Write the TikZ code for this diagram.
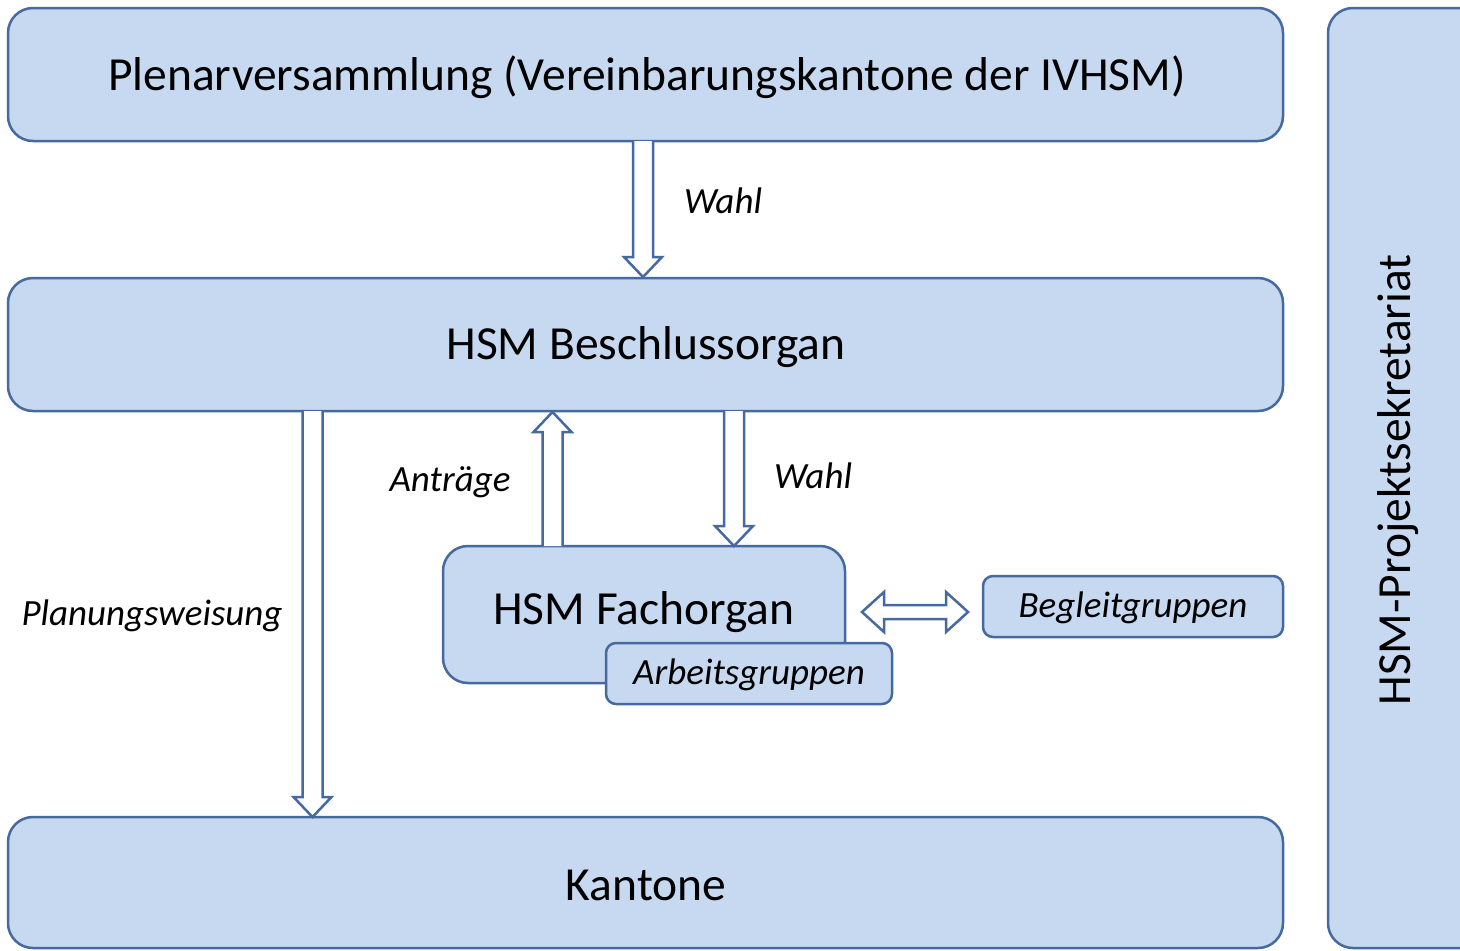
\documentclass[tikz,border=0pt]{standalone}
\usepackage{fontspec}
\setmainfont{Carlito}
\usetikzlibrary{calc}
\definecolor{boxfill}{HTML}{C6D9F0}
\definecolor{boxline}{HTML}{46699F}
\tikzset{
  box/.style={draw=boxline, fill=boxfill, line width=2.5pt, rounded corners=25pt, inner sep=0pt},
  smallbox/.style={draw=boxline, fill=boxfill, line width=2.5pt, rounded corners=10pt, inner sep=0pt},
  arr/.style={draw=boxline, fill=white, line width=2.5pt, line join=miter},
  big/.style={font=\fontsize{47.5}{52}\selectfont},
  lab/.style={font=\fontsize{37}{42}\selectfont\itshape},
}
\newcommand\fatdown[2]{\draw[arr] let \p1=(#1), \p2=(#2) in
  (\x1-10pt,\y1) -- (\x1-10pt,\y2+20pt) -- (\x1-19pt,\y2+20pt) -- (\x1,\y2) -- (\x1+19pt,\y2+20pt) -- (\x1+10pt,\y2+20pt) -- (\x1+10pt,\y1);}
\newcommand\fatup[2]{\draw[arr] let \p1=(#1), \p2=(#2) in
  (\x1-10pt,\y1) -- (\x1-10pt,\y2-20pt) -- (\x1-19pt,\y2-20pt) -- (\x1,\y2) -- (\x1+19pt,\y2-20pt) -- (\x1+10pt,\y2-20pt) -- (\x1+10pt,\y1);}
\newcommand\fatboth[2]{\draw[arr] let \p1=(#1), \p2=(#2) in
  (\x1,\y1) -- (\x1+22pt,\y1+20pt) -- (\x1+22pt,\y1+7pt) -- (\x2-22pt,\y1+7pt) -- (\x2-22pt,\y1+20pt) -- (\x2,\y1)
  -- (\x2-22pt,\y1-20pt) -- (\x2-22pt,\y1-7pt) -- (\x1+22pt,\y1-7pt) -- (\x1+22pt,\y1-20pt) -- cycle;}
\begin{document}
\begin{tikzpicture}[x=1pt,y=-1pt]
\useasboundingbox[fill=white] (0,0) rectangle (1460,951);
% boxes
\node[box, minimum width=1275pt, minimum height=133pt] (plen) at (645.5,74.5) {};
\node[big] (plentxt) at (647,77) {Plenarversammlung (Vereinbarungskantone der IVHSM)};
\node[box, minimum width=1275pt, minimum height=133pt] (besch) at (645.5,344.5) {};
\node[big] (beschtxt) at (646,347) {HSM Beschlussorgan};
\node[box, minimum width=1275pt, minimum height=131pt] (kant) at (645.5,882.5) {};
\node[big] (kanttxt) at (646,885) {Kantone};
\node[box, minimum width=170pt, minimum height=940pt] (sek) at (1413,478) {};
\node[big, rotate=90] (sektxt) at (1398,480) {HSM-Projektsekretariat};
\node[box, minimum width=402pt, minimum height=137pt] (fach) at (644,614.5) {};
\node[big] (fachtxt) at (644,612) {HSM Fachorgan};
\node[smallbox, minimum width=286pt, minimum height=61pt] (arbeit) at (749,673.5) {};
\node[lab] (arbeittxt) at (749,675) {Arbeitsgruppen};
\node[smallbox, minimum width=300pt, minimum height=61pt] (begl) at (1133,606.5) {};
\node[lab] (begltxt) at (1133,608) {Begleitgruppen};
% arrow end points
\coordinate (a1s) at (643,141);
\coordinate (a1e) at (643,277);
\coordinate (a2s) at (312.5,411);
\coordinate (a2e) at (312.5,817);
\coordinate (a3s) at (552.5,546);
\coordinate (a3e) at (552.5,412);
\coordinate (a4s) at (734,411);
\coordinate (a4e) at (734,546);
\coordinate (a5s) at (862,612);
\coordinate (a5e) at (968,612);
\fatdown{a1s}{a1e}
\fatdown{a2s}{a2e}
\fatup{a3s}{a3e}
\fatdown{a4s}{a4e}
\fatboth{a5s}{a5e}
% labels
\node[lab] (l1) at (723,201) {Wahl};
\node[lab] (l2) at (152,616) {Planungsweisung};
\node[lab] (l3) at (450,482) {Anträge};
\node[lab] (l4) at (813,476) {Wahl};
\end{tikzpicture}
\end{document}
